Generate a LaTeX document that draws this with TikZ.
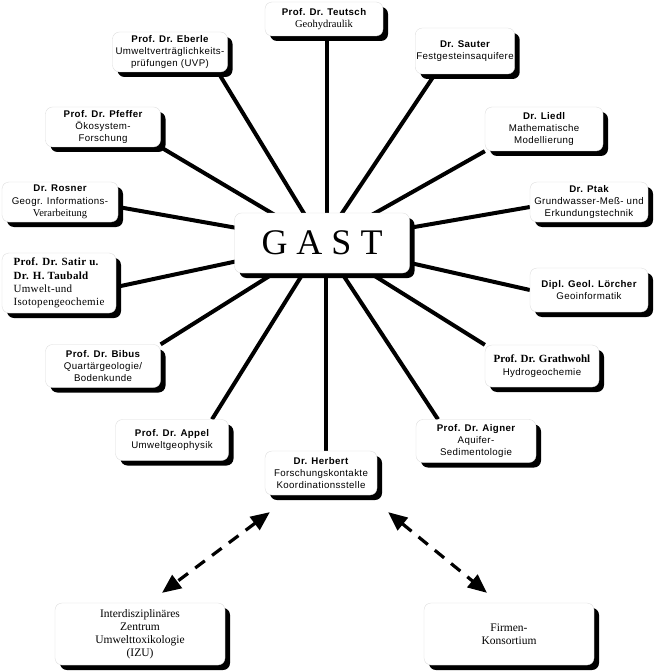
\documentclass[tikz,border=0pt]{standalone}
\usepackage{fontspec}
\setmainfont{Liberation Serif}
\newfontfamily\boxsans[LetterSpace=4]{Liberation Sans}
\newfontfamily\boxserif[LetterSpace=3]{Liberation Serif}
\usetikzlibrary{
  arrows.meta,
  shadows
}
\definecolor{inkC}{HTML}{000000}
\definecolor{paperC}{HTML}{FFFFFF}
\definecolor{rimC}{HTML}{DADADA}

\pgfdeclarelayer{background}
\pgfsetlayers{background,main}

\tikzset{
  unit/.style={
    rounded corners=7pt,
    fill=paperC,
    draw=rimC,
    line width=0.3pt,
    drop shadow={shadow xshift=5pt, shadow yshift=-5pt, fill=inkC, opacity=1},
    align=center,
    inner sep=1pt,
    text=inkC,
    font=\boxsans\fontsize{9.7}{12.3}\selectfont
  },
  serifunit/.style={unit, font=\boxserif\fontsize{11}{13.3}\selectfont},
  spoke/.style={inkC, line width=4pt},
  link/.style={
    inkC,
    line width=3.2pt,
    dash pattern=on 12pt off 9pt,
    {Triangle[length=19pt,width=16pt]}-{Triangle[length=19pt,width=16pt]}
  }
}

\begin{document}
\begin{tikzpicture}[x=1pt, y=-1pt]

\useasboundingbox (0,0) rectangle (653,671);

% Centre.
\node[unit, minimum width=175pt, minimum height=60pt,
  font=\rmfamily\fontsize{36}{40}\selectfont] (gast) at (322,243) {G A S T};

% Groups, clockwise from the top.
\node[unit, minimum width=118pt, minimum height=34pt] (teutsch) at (324,19)
  {\bfseries Prof. Dr. Teutsch\\{\rmfamily\fontsize{10.5}{12.3}\selectfont Geohydraulik}};
\node[unit, minimum width=96pt, minimum height=46pt] (sauter) at (465,51)
  {\bfseries Dr. Sauter\\Festgesteinsaquifere};
\node[unit, minimum width=118pt, minimum height=44pt] (liedl) at (544,129)
  {\bfseries Dr. Liedl\\Mathematische\\Modellierung};
\node[unit, minimum width=118pt, minimum height=40pt] (ptak) at (589,202)
  {\bfseries Dr. Ptak\\Grundwasser-Meß- und\\Erkundungstechnik};
\node[unit, minimum width=118pt, minimum height=44pt] (loercher) at (589,290)
  {\bfseries Dipl. Geol. Lörcher\\Geoinformatik};
\node[unit, minimum width=114pt, minimum height=42pt] (grathwohl) at (542,366)
  {{\rmfamily\bfseries\fontsize{11}{12.3}\selectfont Prof. Dr. Grathwohl}\\Hydrogeochemie};
\node[unit, minimum width=120pt, minimum height=43pt] (aigner) at (476,441)
  {\bfseries Prof. Dr. Aigner\\Aquifer-\\Sedimentologie};
\node[unit, minimum width=112pt, minimum height=44pt] (herbert) at (321,473)
  {\bfseries Dr. Herbert\\Forschungskontakte\\Koordinationsstelle};
\node[unit, minimum width=113pt, minimum height=41pt] (appel) at (172,440)
  {\bfseries Prof. Dr. Appel\\Umweltgeophysik};
\node[unit, minimum width=115pt, minimum height=43pt] (bibus) at (103,366)
  {\bfseries Prof. Dr. Bibus\\Quartärgeologie/\\Bodenkunde};
\node[serifunit, minimum width=114pt, minimum height=60pt, align=left] (satir) at (59,283)
  {\bfseries Prof. Dr. Satir u.\\\bfseries Dr. H. Taubald\\Umwelt-und\\Isotopengeochemie};
\node[unit, minimum width=116pt, minimum height=40pt] (rosner) at (60,202)
  {\bfseries Dr. Rosner\\Geogr. Informations-\\{\rmfamily\fontsize{10.5}{12.3}\selectfont Verarbeitung}};
\node[unit, minimum width=115pt, minimum height=40pt] (pfeffer) at (103,127)
  {\bfseries Prof. Dr. Pfeffer\\Ökosystem-\\Forschung};
\node[unit, minimum width=115pt, minimum height=40pt] (eberle) at (170,52)
  {\bfseries Prof. Dr. Eberle\\Umweltverträglichkeits-\\prüfungen (UVP)};

% Partners below.
\node[serifunit, minimum width=170pt, minimum height=62pt,
  font=\rmfamily\fontsize{11.5}{13}\selectfont] (izu) at (140,634)
  {Interdisziplinäres\\Zentrum\\Umwelttoxikologie\\(IZU)};
\node[serifunit, minimum width=170pt, minimum height=62pt,
  font=\rmfamily\fontsize{11.5}{13}\selectfont] (firmen) at (509,634)
  {Firmen-\\Konsortium};

% Spokes, drawn under the boxes.
\begin{pgfonlayer}{background}
  \draw[spoke] ([xshift=3pt]teutsch.south) -- ([xshift=3pt]teutsch.south |- gast.north);
  \draw[spoke] (gast.center) -- ([xshift=-30pt]sauter.south);
  \draw[spoke] (gast.center) -- (liedl.south west);
  \draw[spoke] (gast.center) -- ([yshift=-5pt]ptak.west);
  \draw[spoke] (gast.center) -- (loercher.west);
  \draw[spoke] (gast.center) -- (grathwohl.north west);
  \draw[spoke] (gast.center) -- ([xshift=-38pt]aigner.north);
  \draw[spoke] ([xshift=5pt]herbert.north) -- ([xshift=5pt]herbert.north |- gast.south);
  \draw[spoke] (gast.center) -- ([xshift=40pt]appel.north);
  \draw[spoke] (gast.center) -- (bibus.north east);
  \draw[spoke] (gast.center) -- ([yshift=-4pt]satir.east);
  \draw[spoke] (gast.center) -- ([yshift=-5pt]rosner.east);
  \draw[spoke] (gast.center) -- (pfeffer.south east);
  \draw[spoke] (gast.center) -- ([xshift=48pt]eberle.south);
\end{pgfonlayer}

% Dashed two-way links.
\draw[link] ([xshift=5pt,yshift=-17pt]herbert.south west) -- ([xshift=22pt,yshift=10pt]izu.north);
\draw[link] ([xshift=11pt,yshift=-17pt]herbert.south east) -- ([xshift=-22pt,yshift=10pt]firmen.north);

\end{tikzpicture}
\end{document}
